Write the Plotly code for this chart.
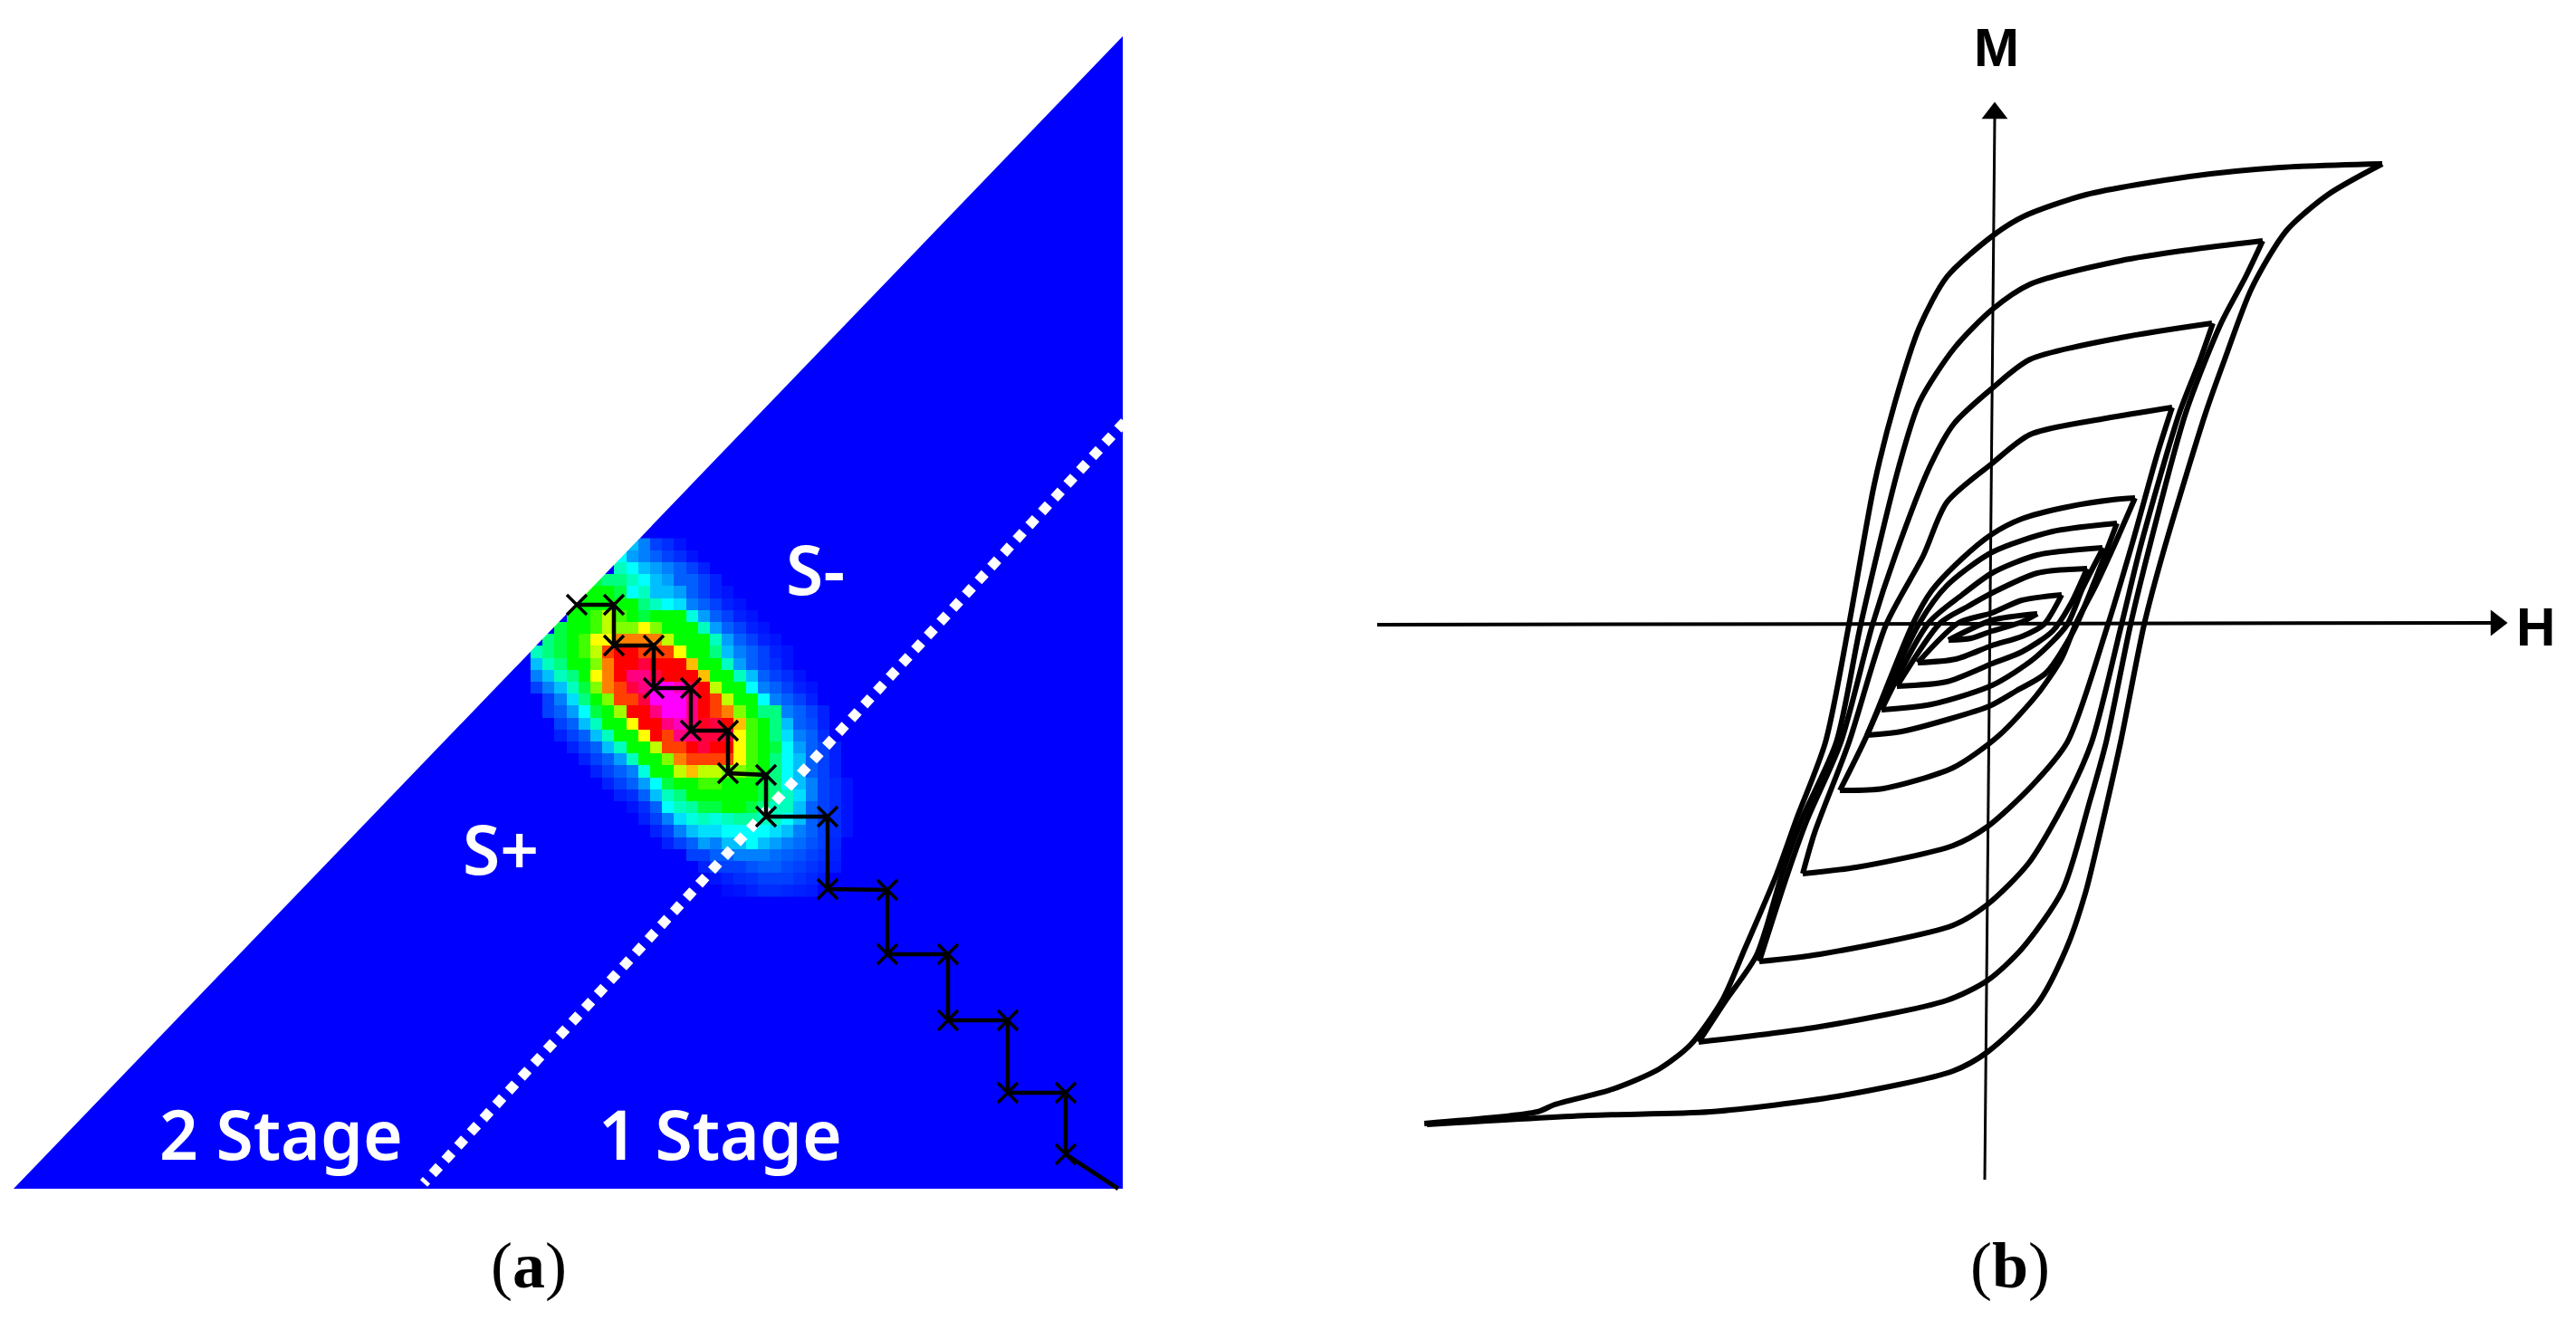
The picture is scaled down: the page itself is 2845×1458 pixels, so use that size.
import plotly.graph_objects as go

# ---------- panel (a): heat values read cell by cell, level 0 (blue) .. 20 (magenta)
HEAT_START = [8,7,7,5,4,3,3,2,1,0,0,0,0,1,1,2,2,3,4,5,6,7,8,9,10,11,13,14,15,16]
HEAT_ROWS = [
 [3,2,1,.7,.3],
 [4,2.5,2,1.5,1,.7,.3],
 [5,4,3,2.5,2,1.5,1,.5],
 [7,6,6,5,4,3,2.5,1.5,1.5,1,.5],
 [8,8,8,7,4,5,3,3,2.5,1.5,1,.5,.3],
 [8,8,8,8,8,8,6,5,4,3.5,2,1.5,1,.5,.3],
 [8,8,9,11,9,8,7,8,8,8,4.5,2.5,1.5,1,.5,.3],
 [7,8,8,9,11,10,10,12,10,8,8,8,5,2.5,1.5,1,.5,.3],
 [6,7,8,9,12,12,14,14,14,14,11,8,8,8,5,2.5,1.5,1,.5,.3],
 [5,6,7,8,9,11,15,16,16,15,15,15,12,8,8,6,3,2,1.5,1,.5,.3],
 [3,5,6,8,8,10,14,16,16,17,16,16,16,13,8,8,5,2.5,1.5,1,.7,.3],
 [2,3,5,6,8,12,14,16,18,18,17,16,16,16,13,8,8,5,3,1.5,1,.7,.3],
 [1,2,3,5,7,10,14,15,17,18,20,20,19,17,16,11,8,8,4,2,1.5,1,.5,.3],
 [1,2,3.5,6,8,10,15,15,17,20,20,20,18,16,15,11,8,8,4,2,1.5,1,.5],
 [1,1.5,2.5,4,7,8,10.5,16,16,18,20,20,18,16,15,14,10,8,6,6,2,1.5,1,.5],
 [1,1.5,3,5,8,8,12,16,16,18,19,18,16.5,17,16,13,9,8,6,3,1.5,1.2,.5],
 [.5,1,1.5,3,5,8,8,12,16,15,18,18,17,17,17,12,9,8,6,3.5,2,1.5,.7],
 [.5,1,1.5,3,5,8,8,11,15,15,16,17,16,16,12,9,8,7,4,2.5,1.5,1,.5],
 [.5,1,1.5,2.5,5,8,8,10,14,15,15,15,15,12,9,8,6,4,3,1.5,1,.5],
 [.5,1,1.5,2,4.5,8,8,11,13,11,11,10,10,9,8,6,4,3,1.5,1,.5],
 [.5,1,1.5,2.5,4,7,8,8,9,9,8,8,8,7,6,4,3,2,1,.7,.3],
 [.5,.7,1.5,3,5,6,8,8,8,8,8,8,7,6,5,3.5,2,1,.7,.3],
 [.3,.7,1.5,4,5,5.5,7,7,8,8,7,6,5,5,3,1.5,1,.7,.3],
 [.5,1,2,3.5,4.5,5,4.5,5,5.5,5.5,5,5,4,3,1.5,1,.7,.3],
 [.5,1,2,3,3.5,3.5,4,4,4,4,3.5,3,2,1.5,1,.7,.3],
 [.5,1,1.5,2.5,2,3,3,4,3,2.5,2,1.7,1.3,1,.6],
 [1,1,1.5,1.5,2,2,2,1.7,1.5,1.3,1,.8,.5],
 [.5,1,1,1,1.3,1.5,1.5,1.2,1,.8,.6,.4],
 [.3,.5,.7,.8,1,1,1,.8,.6,.4],
 [.2,.3,.5,.7,.7,.6,.5,.4],
]
HEAT_COLS = 30
HEAT_LEFT, HEAT_TOP, CELL = 592.5, 601.1, 13.2
HEAT_SCALE = [[0,"rgb(0,0,255)"],[0.2,"rgb(0,255,255)"],[0.4,"rgb(0,255,0)"],
              [0.6,"rgb(255,255,0)"],[0.8,"rgb(255,0,0)"],[1,"rgb(255,0,255)"]]

TRI_PATH = "M15,1313 L1240,1313 L1240,40 Z"
MASK_X = [570,720,570,570]
MASK_Y = [736,580.5,580.5,736]

DIV_X = [1242,468]
DIV_Y = [466,1307]

STAIR_X = [637,678,678,722,722,763,763,804,804,846,846,914,914,980,980,1047,1047,1113,1113,1177,1177,1235]
STAIR_Y = [668,668,713,713,760,760,807,807,854,856,902,902,982,983,1054,1054,1127,1127,1207,1207,1275,1313]
STAIR_MARK_X = STAIR_X[:-1]
STAIR_MARK_Y = STAIR_Y[:-1]

LABELS_A = ["S-","S+","2 Stage","1 Stage"]
LABELS_A_X = [900,553,310,795]
LABELS_A_Y = [628,937,1252,1252]

# ---------- panel (b): loops, upper branch then lower branch
L1_UP_X = [1573,1698,1717,1781,1832,1867,1902,1927,1962,1984,2016,2042,2070,2093,2120,2150,2200,2235,2304,2418,2518,2631]
L1_UP_Y = [1241,1228,1220,1203,1181,1154,1105,1048,966,905,820,690,535,444,361,306,261,239,215,195,185,181]
L1_DN_X = [2631,2571,2525,2487,2457,2436,2390,2368,2342,2318,2303,2282,2250,2195,2157,2029,1889,1755,1576]
L1_DN_Y = [181,215,255,318,397,456,607,690,820,926,987,1048,1109,1162,1183,1211,1228,1232,1242]

L2_UP_X = [1876,1906,1940,1968,1990,2028,2055,2097,2120,2158,2200,2242,2342,2418,2499]
L2_UP_Y = [1151,1105,1055,966,905,820,690,516,444,385,342,314,288,276,266]
L2_DN_X = [2499,2480,2453,2414,2375,2353,2326,2308,2278,2233,2195,2150,2010,1876]
L2_DN_Y = [266,306,357,456,600,690,820,885,983,1048,1083,1105,1134,1151]

L3_UP_X = [1943,1974,1996,2033,2068,2093,2131,2158,2200,2242,2342,2443]
L3_UP_Y = [1062,966,905,820,690,614,516,468,429,397,373,357]
L3_DN_X = [2444,2430,2407,2365,2343,2310,2281,2240,2195,2157,2010,1943]
L3_DN_Y = [357,397,456,600,690,820,885,954,999,1022,1054,1062]

L4_UP_X = [1991,2004,2042,2083,2124,2150,2200,2242,2326,2399]
L4_UP_Y = [965,920,820,690,614,555,512,480,462,450]
L4_DN_X = [2399,2383,2355,2328,2283,2243,2195,2157,2050,1991]
L4_DN_Y = [450,500,600,690,820,869,913,934,958,965]

L5_UP_X = [2032,2062,2113,2133,2167,2200,2233,2283,2333,2358]
L5_UP_Y = [873,812,688,653,617,590,573,560,552,550]
L5_DN_X = [2358,2333,2313,2293,2277,2250,2207,2157,2080,2032]
L5_DN_Y = [550,607,650,688,727,767,813,848,871,873]

L6_UP_X = [2062,2120,2150,2200,2267,2338]
L6_UP_Y = [812,688,647,610,587,578]
L6_DN_X = [2338,2313,2290,2260,2227,2197,2150,2100,2062]
L6_DN_Y = [578,643,697,743,763,780,795,808,812]

L7_UP_X = [2078,2130,2167,2200,2250,2322]
L7_UP_Y = [784,688,657,633,613,605]
L7_DN_X = [2323,2300,2283,2247,2200,2133,2078]
L7_DN_Y = [605,650,690,727,757,778,784]

L8_UP_X = [2095,2143,2173,2200,2250,2305]
L8_UP_Y = [758,688,670,655,633,628]
L8_DN_X = [2305,2287,2267,2233,2200,2150,2095]
L8_DN_Y = [628,667,697,720,733,753,758]

L9_UP_X = [2118,2163,2200,2233,2277]
L9_UP_Y = [732,688,677,663,657]
L9_DN_X = [2277,2257,2233,2200,2160,2118]
L9_DN_Y = [657,690,703,713,728,732]

L10_UP_X = [2152,2200,2250]
L10_UP_Y = [707,685,678]
L10_DN_X = [2250,2233,2200,2177,2152]
L10_DN_Y = [678,687,697,705,707]

BRANCHES = [(L1_UP_X,L1_UP_Y),(L1_DN_X,L1_DN_Y),(L2_UP_X,L2_UP_Y),(L2_DN_X,L2_DN_Y),
            (L3_UP_X,L3_UP_Y),(L3_DN_X,L3_DN_Y),(L4_UP_X,L4_UP_Y),(L4_DN_X,L4_DN_Y),
            (L5_UP_X,L5_UP_Y),(L5_DN_X,L5_DN_Y),(L6_UP_X,L6_UP_Y),(L6_DN_X,L6_DN_Y),
            (L7_UP_X,L7_UP_Y),(L7_DN_X,L7_DN_Y),(L8_UP_X,L8_UP_Y),(L8_DN_X,L8_DN_Y),
            (L9_UP_X,L9_UP_Y),(L9_DN_X,L9_DN_Y),(L10_UP_X,L10_UP_Y),(L10_DN_X,L10_DN_Y)]

H_AXIS_X = [1521,2752]
H_AXIS_Y = [690,688]
V_AXIS_X = [2203,2192]
V_AXIS_Y = [130,1303]

fig = go.Figure()
fig.add_shape(type="path", path=TRI_PATH, fillcolor="rgb(0,0,255)", line=dict(width=0), layer="below")
rows = [[0]*s + r + [0]*(HEAT_COLS-s-len(r)) for s, r in zip(HEAT_START, HEAT_ROWS)]
fig.add_trace(go.Heatmap(z=rows, x0=HEAT_LEFT, dx=CELL, y0=HEAT_TOP, dy=CELL,
                         zmin=0, zmax=20, colorscale=HEAT_SCALE, showscale=False))
fig.add_trace(go.Scatter(x=MASK_X, y=MASK_Y, mode="lines", fill="toself",
                         fillcolor="white", line=dict(width=0), hoverinfo="skip"))
fig.add_trace(go.Scatter(x=DIV_X, y=DIV_Y, mode="lines",
                         line=dict(color="white", width=11, dash="11px,9.7px")))
fig.add_trace(go.Scatter(x=STAIR_X, y=STAIR_Y, mode="lines", line=dict(color="black", width=4.5)))
fig.add_trace(go.Scatter(x=STAIR_MARK_X, y=STAIR_MARK_Y, mode="markers",
                         marker=dict(symbol="x-thin", size=22, line=dict(color="black", width=3.5))))

for bx, by in BRANCHES:
    fig.add_trace(go.Scatter(x=bx, y=by, mode="lines",
                             line=dict(color="black", width=6, shape="spline", smoothing=0.75)))
fig.add_trace(go.Scatter(x=H_AXIS_X, y=H_AXIS_Y, mode="lines", line=dict(color="black", width=4)))
fig.add_trace(go.Scatter(x=V_AXIS_X, y=V_AXIS_Y, mode="lines", line=dict(color="black", width=3)))
fig.add_trace(go.Scatter(x=[2757], y=[688], mode="markers",
                         marker=dict(symbol="triangle-right", size=25, color="black")))
fig.add_trace(go.Scatter(x=[2203], y=[125], mode="markers",
                         marker=dict(symbol="triangle-up", size=25, color="black")))

for t, x, y in zip(LABELS_A, LABELS_A_X, LABELS_A_Y):
    fig.add_annotation(x=x, y=y, text=t, showarrow=False, xanchor="center", yanchor="middle",
                       font=dict(family="Noto Sans", size=75, color="white", weight=600))
for t, x, y in [("M",2205,52),("H",2800,692)]:
    fig.add_annotation(x=x, y=y, text=f"<b>{t}</b>", showarrow=False, xanchor="center", yanchor="middle",
                       font=dict(family="Liberation Sans", size=60, color="black"))
for t, x, y in [("(<b>a</b>)",584,1398),("(<b>b</b>)",2220,1398)]:
    fig.add_annotation(x=x, y=y, text=t, showarrow=False, xanchor="center", yanchor="middle",
                       font=dict(family="Liberation Serif", size=72, color="black"))

fig.update_layout(width=2845, height=1458, margin=dict(l=0,r=0,t=0,b=0), showlegend=False,
                  paper_bgcolor="white", plot_bgcolor="white",
                  xaxis=dict(range=[0,2845], visible=False, fixedrange=True),
                  yaxis=dict(range=[1458,0], visible=False, fixedrange=True))
fig.write_html("out.html", config={"displayModeBar":False},
               post_script="document.body.style.margin='0';document.body.style.overflow='hidden';")
